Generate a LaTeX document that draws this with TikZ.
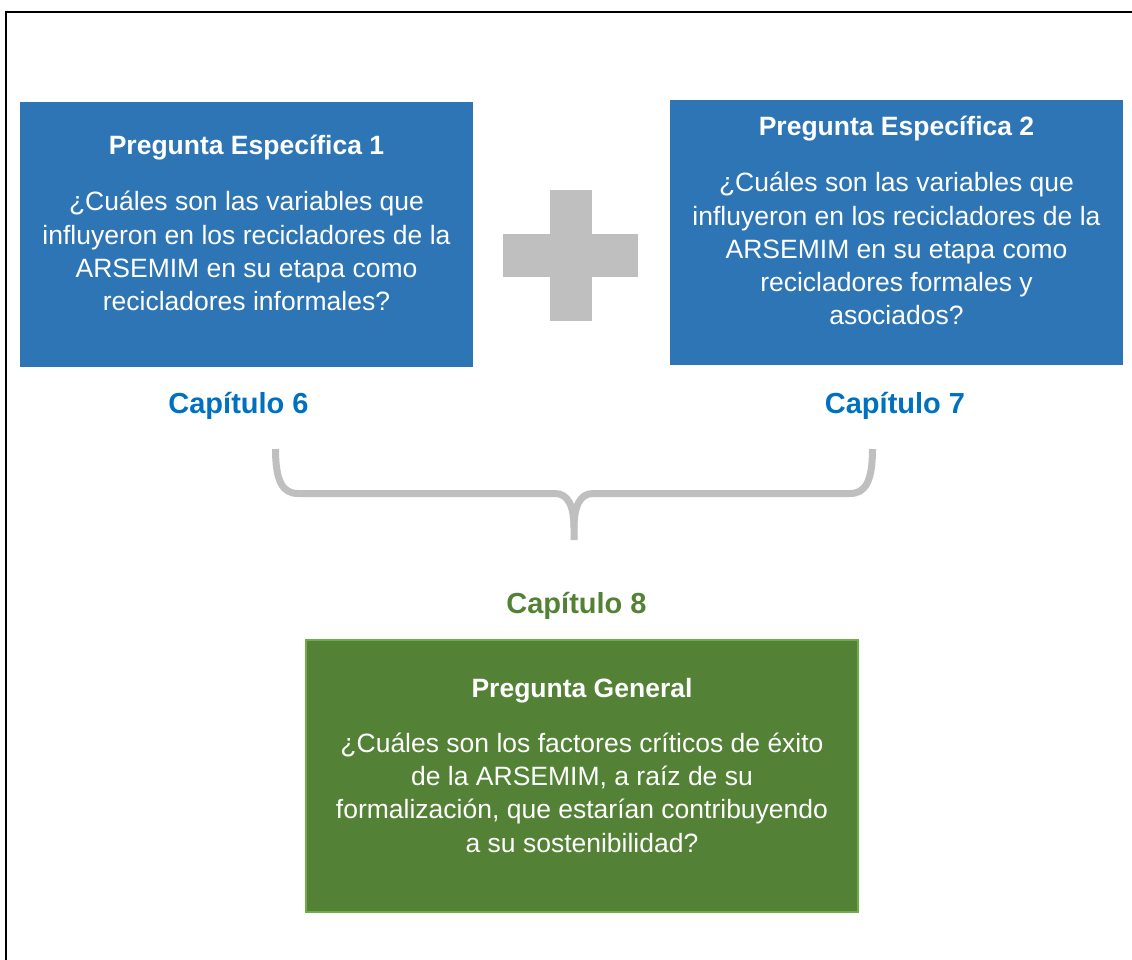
\documentclass[tikz,border=0pt]{standalone}
\usepackage{fontspec}
\setmainfont{Liberation Sans}
\definecolor{boxblue}{HTML}{2E75B6}
\definecolor{capblue}{HTML}{0070C0}
\definecolor{boxgreen}{HTML}{538135}
\definecolor{edgegreen}{HTML}{70AD47}
\definecolor{capgreen}{HTML}{548235}
\definecolor{plusgray}{HTML}{BFBFBF}
\newcommand{\firststrut}{\rule{0pt}{25pt}}
\begin{document}
\begin{tikzpicture}[x=1pt,y=-1pt,
  bluebox/.style={fill=boxblue, draw=none, inner sep=0pt, minimum width=453pt, minimum height=265pt},
  greenbox/.style={fill=boxgreen, draw=edgegreen, line width=1.5pt, inner sep=0pt, minimum width=552pt, minimum height=272pt},
  titletext/.style={text=white, font=\fontsize{26.5}{33.3}\selectfont\bfseries, anchor=base, inner sep=0pt},
  bodytext/.style={text=white, font=\fontsize{26.5}{33.3}\selectfont, align=center, anchor=north, inner sep=0pt},
  chaptext/.style={font=\fontsize{29}{34}\selectfont\bfseries, anchor=base, inner sep=0pt},
  bracestyle/.style={draw=plusgray, line width=7pt, line join=round}
]
\useasboundingbox (0,0) rectangle (1132,960);
% frame (top and left only)
\draw[line width=2.3pt] (5,12) -- (1132,12);
\draw[line width=2.3pt] (6,11) -- (6,960);

% boxes
\node[bluebox] (b1) at (246.5,234.5) {};
\node[bluebox] (b2) at (896.5,232.5) {};
\node[greenbox] (g) at (582,776) {};

% box 1 text
\node[titletext] (t1) at (246.5,154.5) {Pregunta Específica 1};
\node[bodytext] (q1) at (246.5,185.5) {\firststrut¿Cuáles son las variables que\\influyeron en los recicladores de la\\ARSEMIM en su etapa como\\recicladores informales?};

% box 2 text
\node[titletext] (t2) at (896.5,136) {Pregunta Específica 2};
\node[bodytext] (q2) at (896.5,166.5) {\firststrut¿Cuáles son las variables que\\influyeron en los recicladores de la\\ARSEMIM en su etapa como\\recicladores formales y\\asociados?};

% chapters
\node[chaptext, text=capblue] (c6) at (238.5,413) {Capítulo 6};
\node[chaptext, text=capblue] (c7) at (895,413) {Capítulo 7};
\node[chaptext, text=capgreen] (c8) at (576.5,613) {Capítulo 8};

% green text
\node[titletext] (tg) at (582,697.5) {Pregunta General};
\node[bodytext] (qg) at (582,727) {\firststrut¿Cuáles son los factores críticos de éxito\\de la ARSEMIM, a raíz de su\\formalización, que estarían contribuyendo\\a su sostenibilidad?};

% plus sign
\fill[plusgray] (550,190) rectangle (592,321);
\fill[plusgray] (503,234) rectangle (638,277);

% brace
\draw[bracestyle] (275.5,449) .. controls (275.5,482) and (283,493.5) .. (298,493.5)
  -- (555,493.5) .. controls (568,493.5) and (574,506) .. (574,528) -- (574,540);
\draw[bracestyle] (872.5,449) .. controls (872.5,482) and (865,493.5) .. (850,493.5)
  -- (593,493.5) .. controls (580,493.5) and (574,506) .. (574,528);
\end{tikzpicture}
\end{document}
